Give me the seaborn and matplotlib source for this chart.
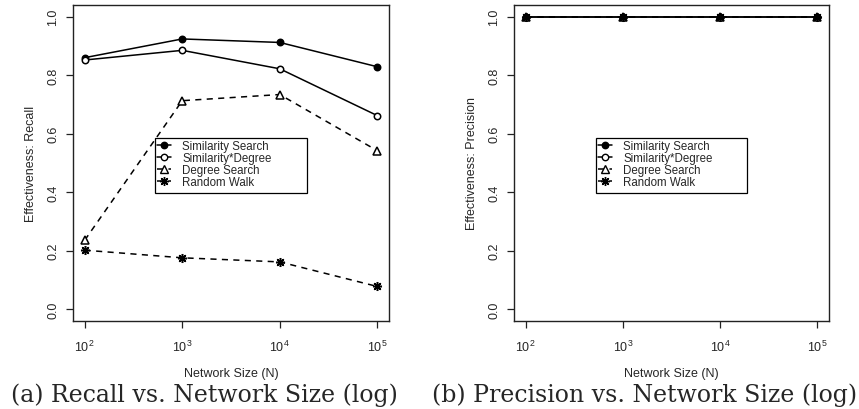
import numpy as np
import matplotlib
matplotlib.use("Agg")
import matplotlib.pyplot as plt
import seaborn as sns
from matplotlib.lines import Line2D
from matplotlib.patches import Rectangle
from matplotlib.ticker import FixedLocator, NullLocator, FuncFormatter

# data
network_sizes = [1e2, 1e3, 1e4, 1e5]
series_names = ["Similarity Search", "Similarity*Degree", "Degree Search", "Random Walk"]

recall_similarity = [0.860, 0.924, 0.912, 0.829]
recall_sim_degree = [0.852, 0.885, 0.822, 0.662]
recall_degree = [0.236, 0.713, 0.734, 0.542]
recall_random = [0.202, 0.176, 0.162, 0.078]

precision_similarity = [1.0, 1.0, 1.0, 1.0]
precision_sim_degree = [1.0, 1.0, 1.0, 1.0]
precision_degree = [1.0, 1.0, 1.0, 1.0]
precision_random = [1.0, 1.0, 1.0, 1.0]

y_ticks = [0.0, 0.2, 0.4, 0.6, 0.8, 1.0]

sns.set_style("white")
plt.rcParams["font.family"] = ["Liberation Sans", "DejaVu Sans"]
plt.rcParams["mathtext.default"] = "regular"

DASH = (4, 3.5)

# marker / line style per series (R pch 19, 1, 2, 8)
styles = {
    "Similarity Search": dict(marker="o", mfc="black", ls="-", ms=4.6),
    "Similarity*Degree": dict(marker="o", mfc="white", ls="-", ms=4.6),
    "Degree Search": dict(marker="^", mfc="white", ls=(0, DASH), ms=5.5),
    "Random Walk": dict(marker=(8, 2, 0), mfc="black", ls=(0, DASH), ms=6.5),
}


def draw_panel(ax, values, ylabel):
    for name, vals in zip(series_names, values):
        st = styles[name]
        sns.lineplot(x=network_sizes, y=vals, ax=ax, color="black", lw=1.1,
                     linestyle=st["ls"], marker=st["marker"], markersize=st["ms"],
                     markerfacecolor=st["mfc"], markeredgecolor="black",
                     markeredgewidth=1.1, legend=False)
    ax.set_xscale("log")
    ax.set_xlim(10 ** 1.88, 10 ** 5.12)
    ax.set_ylim(-0.04, 1.04)
    ax.xaxis.set_major_locator(FixedLocator(network_sizes))
    ax.xaxis.set_major_formatter(FuncFormatter(lambda v, p: r"$10^{%d}$" % round(np.log10(v))))
    ax.xaxis.set_minor_locator(NullLocator())
    ax.set_yticks(y_ticks)
    ax.set_yticklabels(["%.1f" % t for t in y_ticks], rotation=90, va="center")
    ax.tick_params(axis="both", direction="out", length=5, width=0.9, color="#222222",
                   labelsize=9, bottom=True, left=True, pad=5)
    ax.tick_params(axis="x", pad=8)
    for sp in ax.spines.values():
        sp.set_visible(True)
        sp.set_color("#222222")
        sp.set_linewidth(1.0)
    ax.set_xlabel("Network Size (N)", fontsize=9, labelpad=9)
    ax.set_ylabel(ylabel, fontsize=9, labelpad=7)

    # legend: entries without frame, box drawn separately (R-style wide box)
    handles = []
    for name in series_names:
        st = styles[name]
        handles.append(Line2D([], [], color="black", lw=1.1, linestyle=st["ls"],
                              marker=st["marker"], markersize=st["ms"],
                              markerfacecolor=st["mfc"], markeredgecolor="black"))
    ax.legend(handles, series_names, loc="upper left", bbox_to_anchor=(0.262, 0.576),
              fontsize=8.3, frameon=False, handlelength=1.2, handletextpad=1.0,
              labelspacing=0.0, borderpad=0.1, borderaxespad=0)
    ax.add_patch(Rectangle((0.259, 0.405), 0.481, 0.174, transform=ax.transAxes,
                           fill=False, edgecolor="black", lw=0.9, zorder=5))


fig = plt.figure(figsize=(8.59, 4.10), dpi=100)
ax1 = fig.add_axes([73 / 859, 88 / 410, 316 / 859, 316 / 410])
ax2 = fig.add_axes([514 / 859, 88 / 410, 315 / 859, 316 / 410])

draw_panel(ax1, [recall_similarity, recall_sim_degree, recall_degree, recall_random],
           "Effectiveness: Recall")
draw_panel(ax2, [precision_similarity, precision_sim_degree, precision_degree, precision_random],
           "Effectiveness: Precision")

fig.text(204 / 859, 1 - 395 / 410, "(a) Recall vs. Network Size (log)", ha="center",
         va="center", fontsize=17, family="DejaVu Serif")
fig.text(645 / 859, 1 - 395 / 410, "(b) Precision vs. Network Size (log)", ha="center",
         va="center", fontsize=17, family="DejaVu Serif")

fig.savefig("out.png", dpi=100)
